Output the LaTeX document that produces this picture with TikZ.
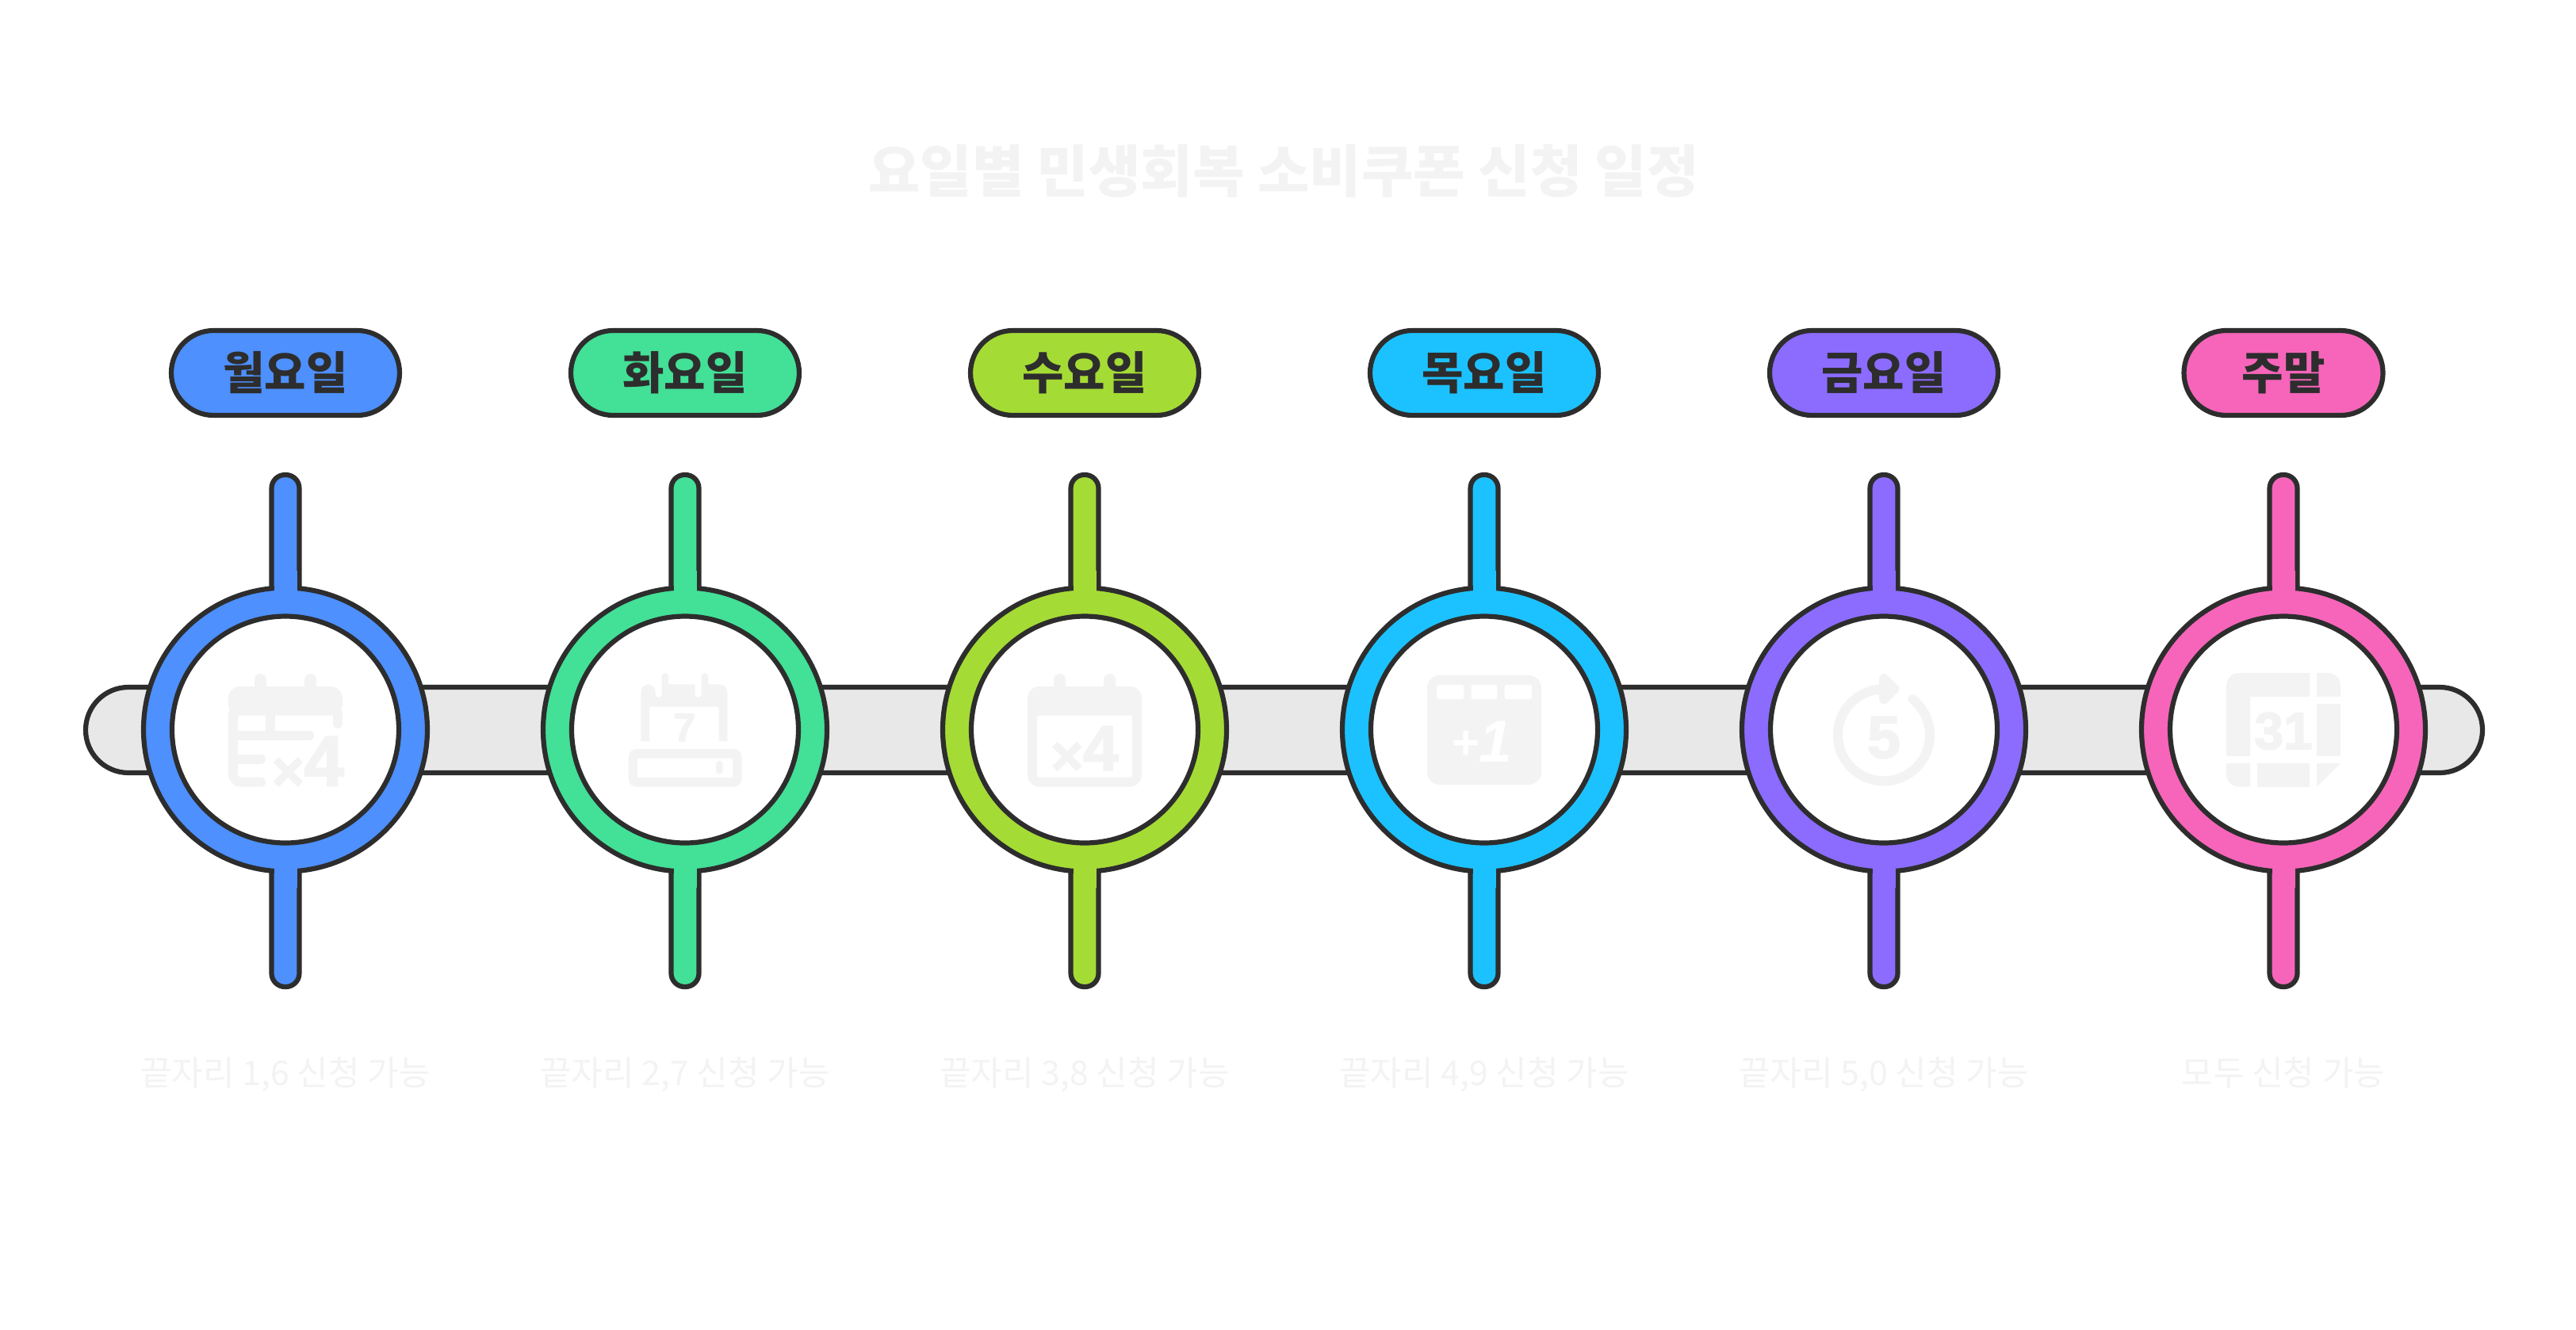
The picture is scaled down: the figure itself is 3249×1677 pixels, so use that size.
\documentclass[tikz,border=0pt]{standalone}
\usepackage{fontspec}
\setmainfont{Noto Sans CJK KR}
\newfontfamily\icfont{Liberation Sans}[BoldFeatures={FakeBold=2.5}]
\definecolor{ink}{HTML}{2D2D2D}
\definecolor{barc}{HTML}{E8E8E8}
\definecolor{faint}{HTML}{F3F3F3}
\definecolor{c1}{HTML}{4D90FE}
\definecolor{c2}{HTML}{43E097}
\definecolor{c3}{HTML}{A5DB35}
\definecolor{c4}{HTML}{1CC2FF}
\definecolor{c5}{HTML}{8B6CFF}
\definecolor{c6}{HTML}{F665BA}
\tikzset{
  outl/.style={draw=ink,line width=3.1pt},
  bartrack/.style={outl,fill=barc,rectangle,rounded corners=27pt,minimum width=1511.5pt,minimum height=54pt,inner sep=0pt},
  ringnode/.style={outl,circle,fill=#1,minimum size=179pt,inner sep=0pt},
  holenode/.style={outl,circle,fill=white,minimum size=143pt,inner sep=0pt},
  pillnode/.style={outl,rectangle,fill=#1,rounded corners=26.7pt,minimum height=53.5pt,inner sep=0pt},
  titletext/.style={anchor=base,text=faint,inner sep=0pt,font=\fontsize{35.6pt}{40pt}\selectfont\bfseries},
  daytext/.style={anchor=base,inner sep=0pt,text=ink,font=\fontsize{28.5pt}{32pt}\selectfont\bfseries},
  subtext/.style={anchor=base,text=faint,inner sep=0pt,font=\fontsize{21.5pt}{25pt}\selectfont},
  icfill/.style={fill=faint,draw=none},
  icwhite/.style={fill=white,draw=none},
  icline/.style={draw=faint,line width=6pt,line cap=round},
  ictab/.style={draw=faint,line width=7.2pt,line cap=round},
  ictext/.style={anchor=base,inner sep=0pt,text=faint,font=\icfont\bfseries},
}
\begin{document}
\begin{tikzpicture}[x=0.5pt,y=-0.5pt]
\path[use as bounding box,fill=white] (0,0) rectangle (3249,1677);
\node[titletext] (title) at (1619,242) {요일별 민생회복 소비쿠폰 신청 일정};
\node[bartrack] (track) at (1619.5,921) {};
% stems, rings
\foreach \i/\x/\day/\w/\sub in {
  1/360/월요일/144/{끝자리 1,6 신청 가능},
  2/864/화요일/144/{끝자리 2,7 신청 가능},
  3/1368/수요일/144/{끝자리 3,8 신청 가능},
  4/1872/목요일/144/{끝자리 4,9 신청 가능},
  5/2376/금요일/144/{끝자리 5,0 신청 가능},
  6/2880/주말/125.5/{모두 신청 가능}}{
  \coordinate (st\i) at (\x-17.5,599);
  \coordinate (sb\i) at (\x+17.5,1245);
  \draw[outl,fill=c\i,rounded corners=8.5pt] (st\i) rectangle (sb\i);
  \node[ringnode=c\i] (ring\i) at (\x,920.5) {};
  \fill[c\i] (\x-14.5,720) rectangle (\x+14.5,1120);
  \node[holenode] (hole\i) at (ring\i) {};
  \node[pillnode=c\i,minimum width=\w pt] (pill\i) at (\x,470.5) {};
  \node[daytext] (day\i) at (\x,491) {\day};
  \node[subtext] (sub\i) at (\x,1369) {\sub};
}
% icon 1
\begin{scope}[shift={(260,820)},scale=1/3]
  \draw[ictab] (205,112)--(205,150);
  \draw[ictab] (395,112)--(395,150);
  \fill[icfill,rounded corners=7.5pt] (84,248)--(84,138)--(516,138)--(516,248)--cycle;
  \draw[icline,line cap=round] (498,240)--(498,279);
  \draw[icline,rounded corners=5pt] (102,240)--(102,500)--(207,500);
  \draw[icline] (102,323)--(390,323);
  \draw[icline] (102,413)--(207,413);
  \draw[icline,line cap=butt] (243,240)--(243,323);
  \node[ictext] (i1t) at (385,514) {\fontsize{35pt}{35pt}\selectfont\raisebox{-3pt}{×}\fontsize{45pt}{45pt}\selectfont 4};
\end{scope}
% icon 2
\begin{scope}[shift={(764,820)},scale=1/3]
  \fill[icfill] (133,345) [rounded corners=5pt] -- (133,130) -- (188,130) [rounded corners=2pt] -- (188,180) -- (212,180) -- (212,87) -- (238,87) [sharp corners] -- (238,130) -- (338,130) [rounded corners=2pt] -- (338,180) -- (362,180) -- (362,87) -- (388,87) [sharp corners] -- (388,130) [rounded corners=5pt] -- (460,130) [sharp corners] -- (460,345) -- (428,345) [rounded corners=1pt] -- (428,215) -- (165,215) [sharp corners] -- (165,345) -- cycle;
  \node[ictext,font=\icfont\bfseries\fontsize{25pt}{25pt}\selectfont] (i2t) at (298,345) {7};
  \fill[icfill,rounded corners=5pt] (86,375) rectangle (515,518);
  \fill[icwhite,rounded corners=.5pt] (120,410) rectangle (480,483);
  \fill[icfill,rounded corners=2pt] (417,420) rectangle (443,470);
\end{scope}
% icon 3
\begin{scope}[shift={(1268,820)},scale=1/3]
  \draw[ictab] (205,112)--(205,150);
  \draw[ictab] (395,112)--(395,150);
  \fill[icfill,rounded corners=7.5pt] (84,138) rectangle (516,518);
  \fill[icwhite,rounded corners=1pt] (120,248) rectangle (480,482);
  \node[ictext] (i3t) at (300,455) {\fontsize{35pt}{35pt}\selectfont\raisebox{-3pt}{×}\fontsize{40pt}{40pt}\selectfont 4};
\end{scope}
% icon 4
\begin{scope}[shift={(1772,820)},scale=1/3]
  \fill[icfill,rounded corners=8pt] (84,96) rectangle (516,510);
  \fill[icwhite,rounded corners=1.3pt] (120,132) rectangle (223,186);
  \fill[icwhite,rounded corners=1.3pt] (251,132) rectangle (349,186);
  \fill[icwhite,rounded corners=1.3pt] (377,132) rectangle (480,186);
  \node[ictext,text=white] (i4t) at (290,425) {\itshape\fontsize{30pt}{30pt}\selectfont\raisebox{2pt}{+}\fontsize{37.5pt}{37.5pt}\selectfont 1};
\end{scope}
% icon 5
\begin{scope}[shift={(2276,820)},scale=1/3]
  \draw[icline,smooth] plot[domain=-51:265,samples=90] ({300+174*cos(\x)},{322+174*sin(\x)});
  \draw[faint,fill=faint,line width=6pt,line join=round] (300,108)--(340,147)--(300,187)--cycle;
  \node[ictext,font=\icfont\bfseries\fontsize{37.5pt}{37.5pt}\selectfont] (i5t) at (300,408) {5};
\end{scope}
% icon 6
\begin{scope}[shift={(2780,820)},scale=1/3]
  \fill[icfill] (84,402) [rounded corners=8pt] -- (84,87) [sharp corners] -- (399,87) -- (399,177) -- (174,177) -- (174,402) -- cycle;
  \fill[icfill] (426,177) -- (426,87) [rounded corners=8pt] -- (516,87) [sharp corners] -- (516,177) -- cycle;
  \fill[icfill] (426,204) rectangle (516,402);
  \fill[icfill] (84,429) [rounded corners=8pt] -- (84,518) [sharp corners] -- (174,518) -- (174,429) -- cycle;
  \fill[icfill] (201,429) rectangle (399,518);
  \fill[icfill] (426,429) -- (516,429) -- (426,518) -- cycle;
  \node[ictext,font=\icfont\bfseries\fontsize{33pt}{33pt}\selectfont] (i6t) at (300,375) {31};
\end{scope}
\end{tikzpicture}
\end{document}
